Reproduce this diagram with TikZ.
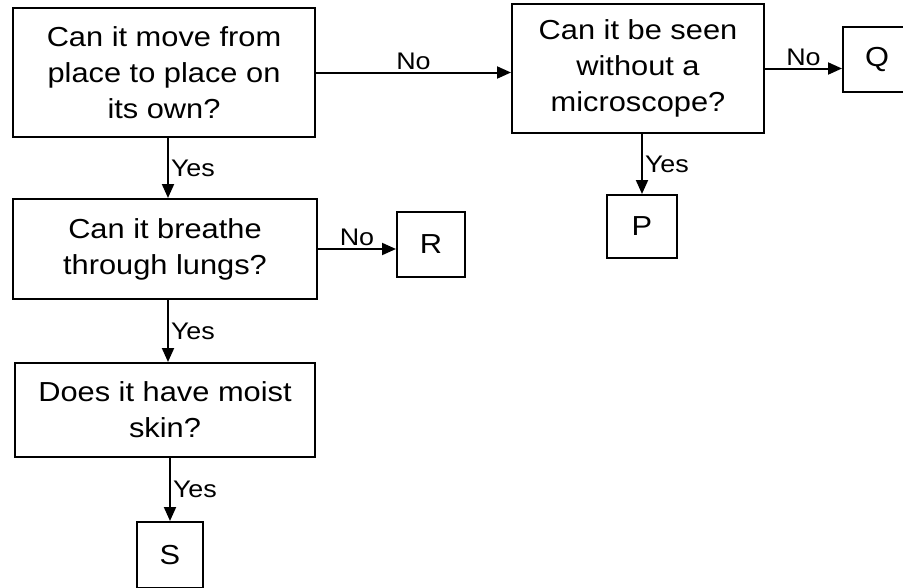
\documentclass[tikz,border=0pt]{standalone}
\usepackage{fontspec}
\setmainfont[FakeStretch=1.12]{Liberation Sans}
\usepackage{tikz}
\usetikzlibrary{arrows.meta}

\begin{document}
\begin{tikzpicture}[x=1pt, y=-1pt,
            question/.style={draw, line width=2pt, align=center, inner sep=0pt,
                font=\fontsize{27.5}{36}\selectfont},
            answer/.style={draw, line width=2pt, minimum width=68pt, minimum height=65pt,
                inner sep=0pt, font=\fontsize{27.5}{36}\selectfont},
            arr/.style={line width=2pt, -{Triangle[length=14pt, width=12pt]}},
            lbl/.style={font=\fontsize{24}{26}\selectfont, inner sep=2pt}]
            \useasboundingbox (0, 0) rectangle (903, 587);

            \node[question, minimum width=302, minimum height=129] (move) at (164, 72.5)
                {Can it move from\\place to place on\\its own?};
            \node[question, minimum width=252, minimum height=129] (seen) at (638, 68.5)
                {Can it be seen\\without a\\microscope?};
            \node[question, minimum width=304, minimum height=100] (lungs) at (165, 249)
                {Can it breathe\\through lungs?};
            \node[question, minimum width=300, minimum height=94] (skin) at (165, 410)
                {Does it have moist\\skin?};

            \node[answer] (Q) at (877, 59.5) {Q};
            \node[answer, minimum width=70, minimum height=63] (P) at (642, 226.5) {P};
            \node[answer] (R) at (431, 244.5) {R};
            \node[answer, minimum width=66, minimum height=66] (S) at (170, 555) {S};

            \draw[arr] (move.east) -- node[lbl, above] {No} (move.east -| seen.west);
            \draw[arr] (seen.east) -- node[lbl, above] {No} (seen.east -| Q.west);
            \draw[arr] (lungs.east) -- node[lbl, above] {No} (lungs.east -| R.west);

            \draw[arr] ([xshift=4]move.south) -- node[lbl, right] {Yes} ([xshift=4]move.south |- lungs.north);
            \draw[arr] (P.north |- seen.south) -- node[lbl, right] {Yes} (P.north);
            \draw[arr] ([xshift=3]lungs.south) -- node[lbl, right] {Yes} ([xshift=3]lungs.south |- skin.north);
            \draw[arr] (S.north |- skin.south) -- node[lbl, right] {Yes} (S.north);
        \end{tikzpicture}
\end{document}
